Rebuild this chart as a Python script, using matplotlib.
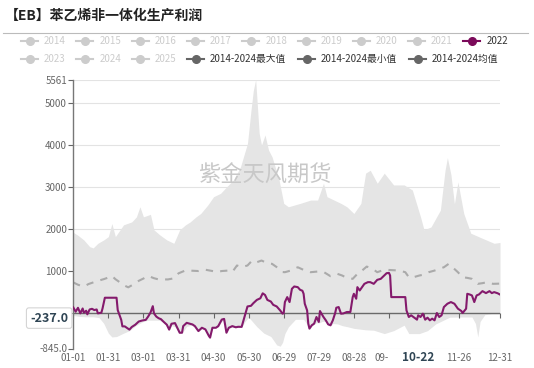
import matplotlib
matplotlib.use("Agg")
import matplotlib.pyplot as plt
from matplotlib.lines import Line2D

plt.rcParams['font.family'] = ['Noto Sans CJK SC', 'DejaVu Sans']

# day-of-year (leap-year axis, 0 = 01-01) and values
max_days = [0, 4, 9, 14, 17, 21, 26, 30, 33, 36, 43, 50, 54, 57, 60, 66, 69, 74, 80, 86,
            91, 96, 100, 105, 109, 115, 120, 126, 131, 137, 143, 149, 152, 154, 156, 159,
            161, 164, 167, 170, 176, 180, 184, 189, 194, 203, 209, 214, 217, 223, 229,
            234, 240, 246, 250, 254, 260, 266, 274, 283, 290, 297, 300, 306, 314, 318,
            320, 323, 326, 329, 334, 340, 349, 360, 365]
max_vals = [1920, 1850, 1740, 1580, 1550, 1660, 1740, 1820, 2130, 1820, 2100, 2170, 2290,
            2530, 2290, 2350, 1980, 1860, 1740, 1660, 1980, 2100, 2170, 2290, 2370, 2570,
            2770, 2850, 3000, 3170, 3480, 4040, 4830, 5300, 5561, 4280, 4000, 4240, 3880,
            3720, 3170, 2610, 2530, 2570, 2610, 2690, 2690, 3090, 2770, 2690, 2610, 2530,
            2370, 2610, 3330, 3400, 3090, 3330, 3050, 3050, 2930, 2290, 1980, 2050, 2450,
            3400, 3700, 3300, 2600, 3120, 2370, 1900, 1790, 1660, 1680]

min_days = [0, 5, 10, 17, 22, 26, 30, 33, 37, 43, 48, 54, 60, 64, 69, 73, 77, 80, 82, 84,
            87, 91, 93, 97, 101, 104, 107, 110, 113, 116, 117, 119, 124, 127, 129, 131,
            133, 136, 141, 144, 147, 150, 157, 163, 169, 171, 174, 177, 179, 181, 184,
            190, 197, 200, 202, 204, 206, 208, 210, 213, 216, 218, 220, 222, 226, 230,
            235, 240, 250, 257, 266, 274, 283, 287, 296, 303, 310, 316, 322, 330, 341,
            344, 346, 348, 352, 358, 365]
min_vals = [-60, -80, -90, -90, -110, -245, -480, -570, -560, -480, -420, -290, -200,
            -170, -170, -170, -210, -290, -410, -300, -330, -490, -480, -320, -290, -330,
            -440, -370, -400, -560, -600, -370, -330, -200, -180, -480, -370, -330, -345,
            -340, -200, -100, -325, -480, -560, -640, -760, -790, -700, -490, -330, -150,
            -150, -270, -390, -310, -270, -230, -240, -200, -200, -290, -310, -250, -260,
            -300, -330, -365, -400, -410, -490, -420, -290, -490, -490, -420, -260, -180,
            -100, -95, -95, -250, -570, -200, -40, -20, -20]

mean_days = [0, 4, 9, 13, 17, 21, 26, 30, 33, 36, 40, 44, 47, 52, 56, 60, 64, 69, 73, 81,
             86, 90, 96, 107, 113, 119, 123, 127, 132, 136, 140, 144, 149, 153, 157, 161,
             166, 170, 174, 179, 181, 186, 192, 197, 203, 209, 214, 220, 226, 230, 234,
             239, 243, 247, 251, 256, 260, 264, 269, 279, 284, 287, 291, 296, 300, 304,
             309, 313, 317, 321, 324, 329, 333, 337, 341, 346, 350, 354, 359, 365]
mean_vals = [728, 674, 628, 690, 728, 767, 806, 845, 884, 806, 728, 651, 612, 690, 767,
             821, 884, 829, 800, 800, 826, 945, 1015, 1000, 1031, 1000, 976, 1000, 1010,
             976, 1132, 1093, 1132, 1250, 1210, 1250, 1187, 1171, 1093, 976, 972, 1011,
             1090, 1027, 972, 988, 980, 877, 932, 893, 837, 814, 932, 1011, 1106, 1051,
             972, 1011, 1027, 1011, 972, 853, 853, 893, 916, 972, 1011, 1051, 1090, 1169,
             1100, 972, 853, 837, 814, 695, 711, 735, 695, 700]

y2022_days = [0, 2, 4, 6, 8, 9, 11, 12, 14, 16, 18, 20, 21, 24, 25, 27, 37, 38, 39, 41,
              42, 44, 46, 48, 50, 53, 56, 59, 62, 64, 66, 68, 69, 71, 73, 75, 77, 80, 82,
              84, 87, 89, 91, 93, 94, 97, 102, 104, 107, 110, 113, 116, 117, 119, 122,
              124, 127, 129, 131, 133, 136, 139, 141, 144, 147, 149, 152, 154, 157, 160,
              162, 164, 166, 169, 171, 174, 177, 179, 180, 181, 183, 185, 187, 189, 192,
              194, 196, 197, 198, 200, 201, 202, 204, 206, 208, 210, 211, 212, 214, 216,
              218, 220, 222, 224, 225, 227, 229, 231, 234, 237, 239, 240, 242, 243, 245,
              247, 249, 252, 254, 257, 260, 263, 266, 268, 270, 271, 272, 284, 285, 287,
              289, 291, 294, 295, 297, 299, 301, 303, 305, 307, 309, 311, 313, 315, 317,
              320, 323, 326, 329, 332, 333, 336, 337, 339, 341, 343, 345, 347, 350, 353,
              356, 358, 360, 363, 365]
y2022_vals = [132, 31, 124, -8, 108, 8, 54, -31, 85, 100, 70, 85, -8, 8, 108, 364, 364, 70,
              -8, -163, -318, -318, -357, -395, -333, -279, -202, -178, -163, -85, 8, 163,
              -8, -85, -124, -147, -202, -279, -395, -256, -240, -357, -470, -469, -312,
              -234, -273, -312, -430, -351, -390, -547, -586, -351, -351, -312, -156, -140,
              -469, -351, -312, -340, -328, -330, -39, 156, 172, 234, 312, 351, 469, 430,
              312, 273, 195, 156, 60, -16, 0, 261, 379, 261, 577, 632, 616, 553, 530, 458,
              221, 63, -253, -371, -292, -253, -95, -213, 47, 0, -95, -174, -269, -292,
              -174, 0, 126, 142, -16, -10, 24, 24, 379, 458, 340, 616, 537, 616, 695, 735,
              735, 695, 790, 814, 893, 948, 956, 893, 379, 379, 63, -95, -55, -95, -158,
              -55, -95, -16, -158, -111, -174, -134, -174, 0, -95, -55, 142, 221, 261, 221,
              103, 47, 0, 103, 458, 442, 419, 261, 419, 442, 521, 474, 521, 474, 498, 470,
              440]

tick_days = [0, 30, 60, 90, 120, 150, 180, 210, 240, 270, 300, 330, 365]
tick_labels = ['01-01', '01-31', '03-01', '03-31', '04-30', '05-30', '06-29', '07-29',
               '08-28', '09-', '', '11-26', '12-31']
y_ticks = [-845, 0, 1000, 2000, 3000, 4000, 5000, 5561]
y_labels = ['-845.0', '0.000', '1000', '2000', '3000', '4000', '5000', '5561']

W, H = 534, 368
fig = plt.figure(figsize=(W / 100, H / 100), dpi=100)


def fx(px):
    return px / W


def fy(py):
    return 1 - py / H


# title + separator
fig.text(fx(5), fy(16), '【EB】苯乙烯非一体化生产利润', fontsize=10, fontweight='bold',
         color='#222222', va='center', ha='left')
fig.add_artist(Line2D([fx(3), fx(528)], [fy(32.5), fy(32.5)], color='#bbbbbb', lw=0.8))

# legend, drawn by hand to keep the two uneven rows
grey = '#cccccc'
dark = '#666666'
purple = '#841a6c'


def legend_item(x, y, text, mcolor, tcolor):
    fig.add_artist(Line2D([fx(x), fx(x + 17)], [fy(y), fy(y)], color=mcolor, lw=1.5))
    fig.add_artist(Line2D([fx(x + 8.5)], [fy(y)], marker='o', markersize=5.5,
                          color=mcolor, lw=0))
    fig.text(fx(x + 23), fy(y), text, fontsize=7, color=tcolor, va='center', ha='left')


row1 = ['2014', '2015', '2016', '2017', '2018', '2019', '2020', '2021']
for i, t in enumerate(row1):
    legend_item(21 + 55.3 * i, 41, t, grey, grey)
legend_item(21 + 55.3 * 8, 41, '2022', '#7b0a5a', '#333333')
for i, t in enumerate(['2023', '2024', '2025']):
    legend_item(21 + 55.3 * i, 59, t, grey, grey)
legend_item(187, 59, '2014-2024最大值', dark, '#333333')
legend_item(298, 59, '2014-2024最小值', dark, '#333333')
legend_item(409, 59, '2014-2024均值', dark, '#333333')

# plot area
ax = fig.add_axes([fx(73.3), fy(348.5), (500 - 73.3) / W, (348.5 - 79.5) / H])
ymin, ymax = -845, 5561

# max-min band, split at zero
ax.fill_between(max_days, max_vals, 0, color='#e5e5e5', lw=0, zorder=1)
ax.fill_between(min_days, min_vals, 0, color='#e5e5e5', lw=0, zorder=1)

ax.text(0.449, 0.645, '紫金天风期货', transform=ax.transAxes, fontsize=16,
        color='#c8c8c8', ha='center', va='center', zorder=1.3)

ax.axhline(0, color='#6a6a6a', lw=1, zorder=1.5)
ax.plot(mean_days, mean_vals, color='#aaaaaa', lw=1.5, dashes=(3.5, 3.5), zorder=2)
ax.plot(y2022_days, y2022_vals, color=purple, lw=1.5, zorder=3)

ax.set_xlim(0, 365)
ax.set_ylim(ymin, ymax)
ax.set_yticks(y_ticks, y_labels)
ax.set_xticks(tick_days, tick_labels)
labels = ax.get_xticklabels()
labels[9].set_ha('right')
ax.tick_params(axis='x', length=0, pad=3.5, labelsize=7, labelcolor='#666666')
ax.tick_params(axis='y', length=3.5, width=0.8, pad=1, labelsize=7,
               labelcolor='#666666', color='#666666')
ax.grid(axis='y', color='#e3e3e3', lw=0.8)
ax.set_axisbelow(True)
for s in ['top', 'right', 'bottom']:
    ax.spines[s].set_visible(False)
ax.spines['left'].set_color('#777777')
ax.spines['left'].set_linewidth(1)

# tick marks on the zero line
secax = ax.secondary_xaxis((0 - ymin) / (ymax - ymin))
secax.set_xticks(tick_days)
secax.tick_params(length=3.5, width=0.8, color='#666666', labelbottom=False,
                  labeltop=False, direction='out')
for s in secax.spines.values():
    s.set_visible(False)
secax.set_zorder(1.6)

# axis pointer labels
ax.annotate('-237.0', xy=(-0.012, -237), xycoords=ax.get_yaxis_transform(),
            xytext=(0, 3.5), textcoords='offset points', ha='right', va='center',
            fontsize=9, fontweight='bold', color='#2f4554', zorder=6,
            annotation_clip=False,
            bbox=dict(boxstyle='round,pad=0.3,rounding_size=0.2', fc='white',
                      ec='#d5d5d5', lw=0.8))
ax.text(295, -0.034, '10-22', transform=ax.get_xaxis_transform(), ha='center',
        va='center', fontsize=8.5, fontweight='bold', color='#2f4554', zorder=6,
        clip_on=False, bbox=dict(boxstyle='square,pad=0.15', fc='white', ec='none'))

fig.savefig('out.png', dpi=100)
